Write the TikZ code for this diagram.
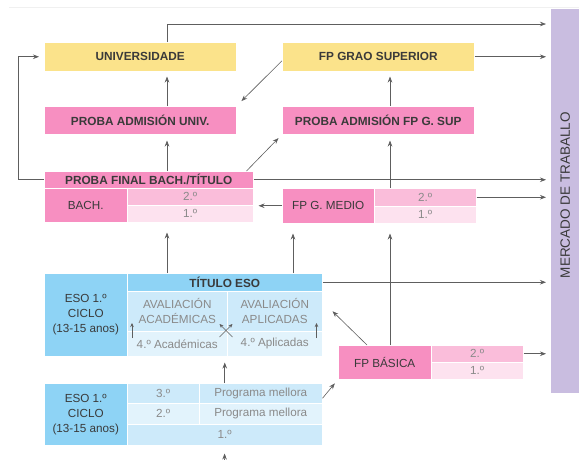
\documentclass[tikz,border=0pt]{standalone}
\usepackage{fontspec}
\setmainfont{Liberation Sans}
\usetikzlibrary{arrows.meta,positioning}
\usepackage{xcolor}
\definecolor{yel}{HTML}{FBE38B}
\definecolor{pinka}{HTML}{F78FC1}
\definecolor{pinkb}{HTML}{FABDDA}
\definecolor{pinkc}{HTML}{FDE2EF}
\definecolor{bluea}{HTML}{8ED3F5}
\definecolor{blueb}{HTML}{CDEAFA}
\definecolor{bluec}{HTML}{E2F3FC}
\definecolor{lilac}{HTML}{C9BDE0}
\definecolor{ink}{HTML}{3A3A3A}
\definecolor{grey}{HTML}{8A8A8A}
\definecolor{wire}{HTML}{5E5E5E}

\begin{document}
\begin{tikzpicture}[x=1pt,y=-1pt,
	  every node/.style={align=center,text=ink,inner sep=0pt,font=\fontsize{11.7}{15}\selectfont},
	  cell/.style={anchor=north west,draw=white,line width=0.5pt},
	  head/.style={cell,font=\fontsize{11.8}{14}\selectfont\bfseries},
	  grade/.style={cell,text=grey},
	  to/.style={->,>={Stealth[length=6pt,width=4.5pt]},draw=wire,line width=0.6pt,shorten >=5pt},
	  minor/.style={->,>={Stealth[length=4pt,width=3.5pt]},draw=wire,line width=0.5pt}]

	  \useasboundingbox (0,0) rectangle (579,459);
	  \draw[gray!12] (9,7) -- (579,7);

	  % upper boxes
	  \node[head,fill=yel,minimum width=192pt,minimum height=29pt] (univ) at (44,42) {UNIVERSIDADE};
	  \node[head,fill=pinka,minimum width=192pt,minimum height=28pt] (padmu) at (44,106) {PROBA ADMISIÓN UNIV.};
	  \node[head,fill=yel,minimum width=192pt,minimum height=29pt] (grao) at (282,42) {FP GRAO SUPERIOR};
	  \node[head,fill=pinka,minimum width=192pt,minimum height=28pt] (padmf) at (282,106) {PROBA ADMISIÓN FP G. SUP};

	  % labour market
	  \node[cell,draw=none,fill=lilac,minimum width=28pt,minimum height=384pt] (mercado) at (551,9) {};
	  \node[rotate=90,font=\fontsize{13.5}{16}\selectfont] (mercadotxt) at ([yshift=6pt]mercado.center) {MERCADO DE TRABALLO};

	  % bacharelato
	  \node[head,fill=pinka,minimum width=209pt,minimum height=17pt] (finalhdr) at (44,171) {PROBA FINAL BACH./TÍTULO};
	  \node[cell,fill=pinka,minimum width=83pt,minimum height=34pt] (bach) at (44,188) {BACH.};
	  \node[grade,fill=pinkb,minimum width=126pt,minimum height=17pt] (bachb) at (127,188) {2.º};
	  \node[grade,fill=pinkc,minimum width=126pt,minimum height=17pt] (bacha) at (127,205) {1.º};

	  % fp grao medio
	  \node[cell,fill=pinka,minimum width=92pt,minimum height=35pt] (medio) at (282,188) {FP G. MEDIO};
	  \node[grade,fill=pinkb,minimum width=102pt,minimum height=18pt] (medtwo) at (374,188) {2.º};
	  \node[grade,fill=pinkc,minimum width=102pt,minimum height=17pt] (medone) at (374,206) {1.º};

	  % titulo eso
	  \node[cell,fill=bluea,minimum width=83pt,minimum height=83pt] (esoa) at (44,273) {ESO 1.º\\CICLO\\(13-15 anos)};
	  \node[head,fill=bluea,minimum width=195pt,minimum height=18pt] (titulo) at (127,273) {TÍTULO ESO};
	  \node[grade,fill=blueb,minimum width=100pt,minimum height=40pt] (acad) at (127,291) {AVALIACIÓN\\ACADÉMICAS};
	  \node[grade,fill=blueb,minimum width=95pt,minimum height=40pt] (aplic) at (227,291) {AVALIACIÓN\\APLICADAS};
	  \node[grade,fill=bluec,minimum width=100pt,minimum height=25pt] (acadf) at (127,331) {4.º Académicas};
	  \node[grade,fill=bluec,minimum width=95pt,minimum height=25pt] (aplicf) at (227,331) {4.º Aplicadas};

	  % fp basica
	  \node[cell,fill=pinka,minimum width=93pt,minimum height=34pt] (basica) at (338,345) {FP BÁSICA};
	  \node[grade,fill=pinkb,minimum width=92pt,minimum height=17pt] (bastwo) at (431,345) {2.º};
	  \node[grade,fill=pinkc,minimum width=92pt,minimum height=17pt] (basone) at (431,362) {1.º};

	  % lower eso
	  \node[cell,fill=bluea,minimum width=83pt,minimum height=62pt] (esob) at (44,383) {ESO 1.º\\CICLO\\(13-15 anos)};
	  \node[grade,fill=blueb,minimum width=72pt,minimum height=20pt] (thrnum) at (127,383) {3.º};
	  \node[grade,fill=blueb,minimum width=123pt,minimum height=20pt] (thrprog) at (199,383) {Programa mellora};
	  \node[grade,fill=bluec,minimum width=72pt,minimum height=21pt] (twonum) at (127,403) {2.º};
	  \node[grade,fill=bluec,minimum width=123pt,minimum height=21pt] (twoprog) at (199,403) {Programa mellora};
	  \node[grade,fill=blueb,minimum width=195pt,minimum height=21pt] (onerow) at (127,424) {1.º};

	  % turning points
	  \coordinate (topturn) at (167,24);
	  \coordinate (loop) at (18,0);
	  \coordinate (midcol) at (390,0);
	  \coordinate (start) at (224.5,462);

	  % arrows to the labour market
	  \draw[to] (univ.north -| topturn) -- (topturn) -- (topturn -| mercado.west);
	  \draw[to] (grao.east) -- (grao.east -| mercado.west);
	  \draw[to] (finalhdr.east) -- (finalhdr.east -| mercado.west);
	  \draw[to] (medtwo.east) -- (medtwo.east -| mercado.west);
	  \draw[to] (titulo.east) -- (titulo.east -| mercado.west);
	  \draw[to] (bastwo.east) -- (bastwo.east -| mercado.west);

	  % upward paths
	  \draw[to] (finalhdr.west) -- (finalhdr.west -| loop) |- (univ.west);
	  \draw[to] (padmu.north -| topturn) -- (univ.south -| topturn);
	  \draw[to,shorten >=6pt] (finalhdr.north -| topturn) -- (padmu.south -| topturn);
	  \draw[to,shorten >=7pt] ([yshift=-4pt]grao.west) -- (padmu.north east);
	  \draw[to] ([xshift=-7pt]finalhdr.north east) -- (padmf.south west);
	  \draw[to] (padmf.north -| midcol) -- (grao.south -| midcol);
	  \draw[to,shorten >=6pt] (medtwo.north -| midcol) -- (padmf.south -| midcol);
	  \draw[to] (medio.west) -- (medio.west -| bacha.east);
	  \draw[to,shorten >=10pt] (titulo.north -| topturn) -- (bacha.south -| topturn);
	  \draw[to,shorten >=10pt] ([xshift=11pt]titulo.north -| medio.west) -- ([xshift=11pt]medio.south west);
	  \draw[to,shorten >=10pt] (basica.north -| midcol) -- (medone.south -| midcol);
	  \draw[to,shorten >=0pt] ([xshift=29pt]basica.north west) -- ([xshift=10pt]aplic.east);
	  \draw[to] ([yshift=-5pt]thrprog.east) -- (basica.south west);
	  \draw[to,shorten >=6pt] (thrprog.north -| onerow.north) -- (acadf.south -| onerow.north);
	  \draw[to,shorten >=8pt] (start) -- (onerow.south);

	  % inside titulo eso
	  \draw[minor] ([shift={(5,7)}]acadf.north west) -- ++(0,-15);
	  \draw[minor] ([shift={(-6,7)}]aplicf.north east) -- ++(0,-15);
	  \draw[minor] ([shift={(5,6)}]acadf.north east) -- ++(-13,-13);
	  \draw[minor] ([shift={(-8,6)}]acadf.north east) -- ++(13,-13);
\end{tikzpicture}
\end{document}
